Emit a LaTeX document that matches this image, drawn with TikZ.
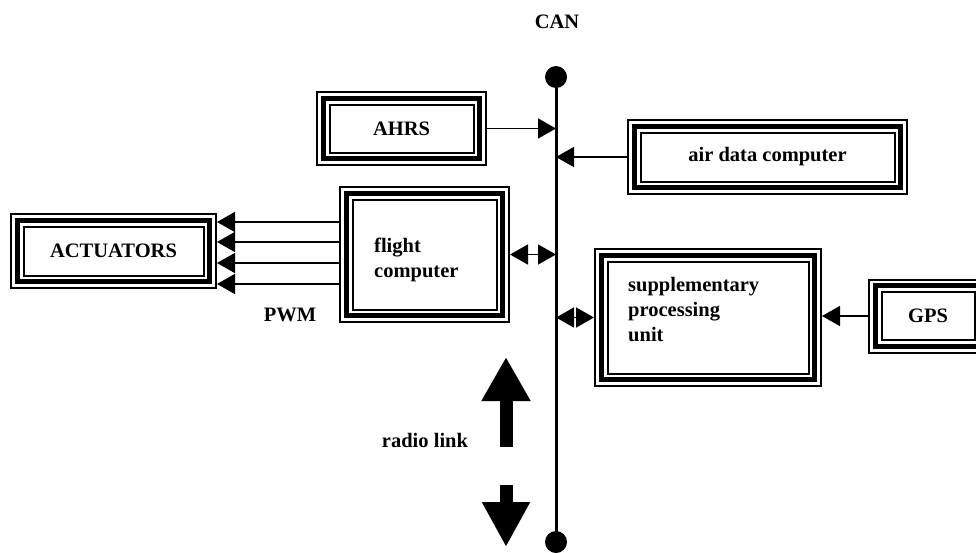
\documentclass[tikz,border=0pt]{standalone}
\usepackage{fontspec}
\setmainfont{Liberation Serif}
\usetikzlibrary{arrows.meta}
\tikzset{
  tribox/.style={draw,line width=5pt,inner sep=0pt,outer sep=7.25pt,
    preaction={draw,line width=14.5pt},
    preaction={draw=white,line width=10.5pt}},
  lbl/.style={font=\bfseries\fontsize{20.5}{25}\selectfont,inner sep=0pt},
  link/.style={line width=1.5pt}
}
\begin{document}
\begin{tikzpicture}[>={Triangle[length=18pt,width=20pt]},x=1pt,y=-1pt]
		\useasboundingbox (0,0) rectangle (976,552);
		\coordinate (cantop) at (556,77);
		\coordinate (canbot) at (556,542);
		\draw[line width=3pt] (cantop) -- (canbot);
		\fill (cantop) circle (11pt) (canbot) circle (11pt);
		\node[lbl] (can) at (557,22) {CAN};
		\node[tribox,lbl,minimum width=156.5pt,minimum height=60.5pt] (ahrs) at (401.5,128.5) {AHRS};
		\node[tribox,lbl,minimum width=266.5pt,minimum height=61.5pt] (adc) at (767.5,157) {air data computer};
		\node[tribox,lbl,minimum width=192.5pt,minimum height=61.5pt] (act) at (113.5,251) {ACTUATORS};
		\node[tribox,minimum width=156.5pt,minimum height=122.5pt] (fc) at (424.5,254.5) {};
		\node[lbl,align=left,anchor=west] (fclbl) at (374,260) {flight\\computer};
		\node[tribox,minimum width=213.5pt,minimum height=124.5pt] (spu) at (708,317.5) {};
		\node[lbl,align=left,anchor=west] (spulbl) at (628,310) {supplementary\\processing\\unit};
		\node[tribox,lbl,minimum width=105.5pt,minimum height=60.5pt] (gps) at (928,316) {GPS};
		\node[lbl] (pwm) at (290,315) {PWM};
		\node[lbl] (radio) at (425,440) {radio link};
		\draw[link,->] (ahrs) -- (ahrs -| cantop);
		\draw[link,->] (adc) -- (adc -| cantop);
		\draw[link,<->] (fc) -- (fc -| cantop);
		\draw[link,<->] (spu -| cantop) -- (spu);
		\draw[link,->] (gps.west) -- (gps.west -| spu.east);
		\foreach \yy in {222,242,263,284}
			\draw[link,->] (fc.west |- 0,\yy) -- (act.east |- 0,\yy);
		\coordinate (uptail) at (506,447);
		\coordinate (uptip) at (506,357);
		\coordinate (dntail) at (506,485);
		\coordinate (dntip) at (506,547);
		\draw[line width=13pt,-{Triangle[length=44pt,width=46pt]}] (uptail) -- (uptip);
		\draw[line width=13pt,-{Triangle[length=45pt,width=45pt]}] (dntail) -- (dntip);
\end{tikzpicture}
\end{document}
